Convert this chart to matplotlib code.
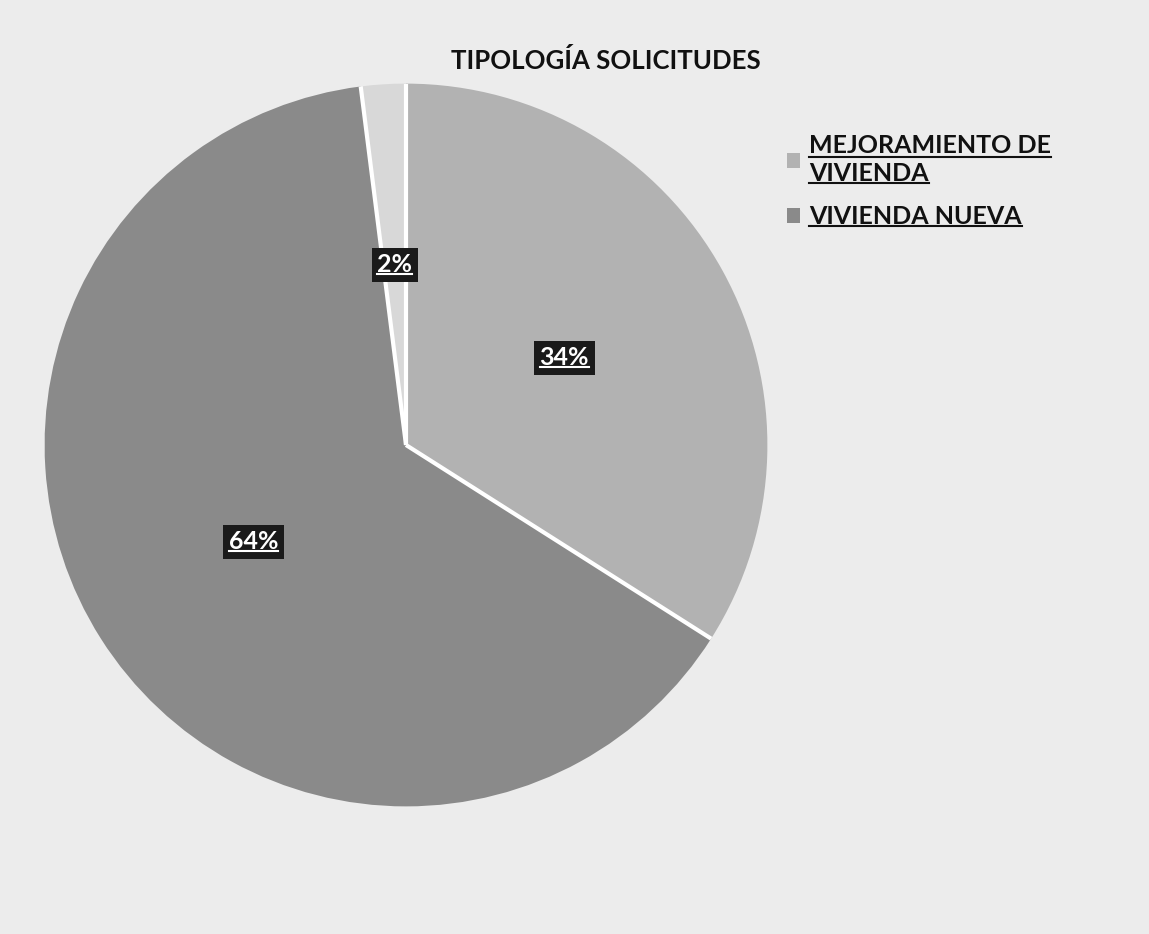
import numpy as np
import matplotlib.pyplot as plt
from matplotlib.lines import Line2D

categories = ['MEJORAMIENTO DE\nVIVIENDA', 'VIVIENDA NUEVA', 'OTROS']
shares = [34, 64, 2]
colors = ['#b2b2b2', '#8a8a8a', '#d8d8d8']
bg = '#ececec'

plt.rcParams['font.family'] = ['Lato', 'DejaVu Sans']

fig = plt.figure(figsize=(11.49, 9.34), dpi=100, facecolor=bg)
ax = fig.add_axes([41 / 1149, 1 - 810 / 934, 730 / 1149, 730 / 934])
ax.set_facecolor(bg)

wedges, texts, autotexts = ax.pie(
    shares, colors=colors, startangle=90, counterclock=False,
    autopct='%d%%', pctdistance=0.5, radius=1,
    wedgeprops=dict(linewidth=0),
    textprops=dict(color='white', fontsize=18, fontweight='bold'))
for t in autotexts:
    t.set_bbox(dict(facecolor='#1a1a1a', edgecolor='none', pad=4))

# white separators between slices (no outer rim)
bounds = 90 - 360 * np.cumsum([0] + shares[:-1]) / sum(shares)
for a in np.deg2rad(bounds):
    ax.plot([0, np.cos(a)], [0, np.sin(a)], color='white', lw=3,
            solid_capstyle='butt', zorder=3)
for t in autotexts:
    t.set_zorder(5)

ax.set_xlim(-1.01, 1.01)
ax.set_ylim(-1.01, 1.01)
ax.axis('off')

fig.text(0.527, 0.935, 'TIPOLOGÍA SOLICITUDES', ha='center', va='center',
         fontsize=18.5, fontweight='bold', color='#111111')

leg = fig.legend(wedges[:2], categories[:2], loc='upper left',
                 bbox_to_anchor=(0.665, 0.881), frameon=False,
                 prop=dict(size=18, weight='bold'), handlelength=0.55,
                 handleheight=0.55, handletextpad=0.35, labelspacing=0.8)
for t in leg.get_texts():
    t.set_color('#111111')
    t.set_linespacing(1.3)

# underline each line of text like the original
fig.canvas.draw()
r = fig.canvas.get_renderer()
W, H = fig.bbox.width, fig.bbox.height
for t in list(leg.get_texts()) + list(autotexts):
    bb = t.get_window_extent(r)
    lines = t.get_text().split('\n')
    h = bb.height / len(lines)
    for i, line in enumerate(lines):
        tmp = fig.text(0, 0, line, fontproperties=t.get_fontproperties())
        w = tmp.get_window_extent(r).width
        tmp.remove()
        y = bb.y1 - (i + 1) * h + 2
        fig.add_artist(Line2D([bb.x0 / W, (bb.x0 + w) / W], [y / H] * 2,
                              color=t.get_color(), linewidth=1.5, zorder=6))

fig.savefig('out.png', dpi=100, facecolor=bg)
